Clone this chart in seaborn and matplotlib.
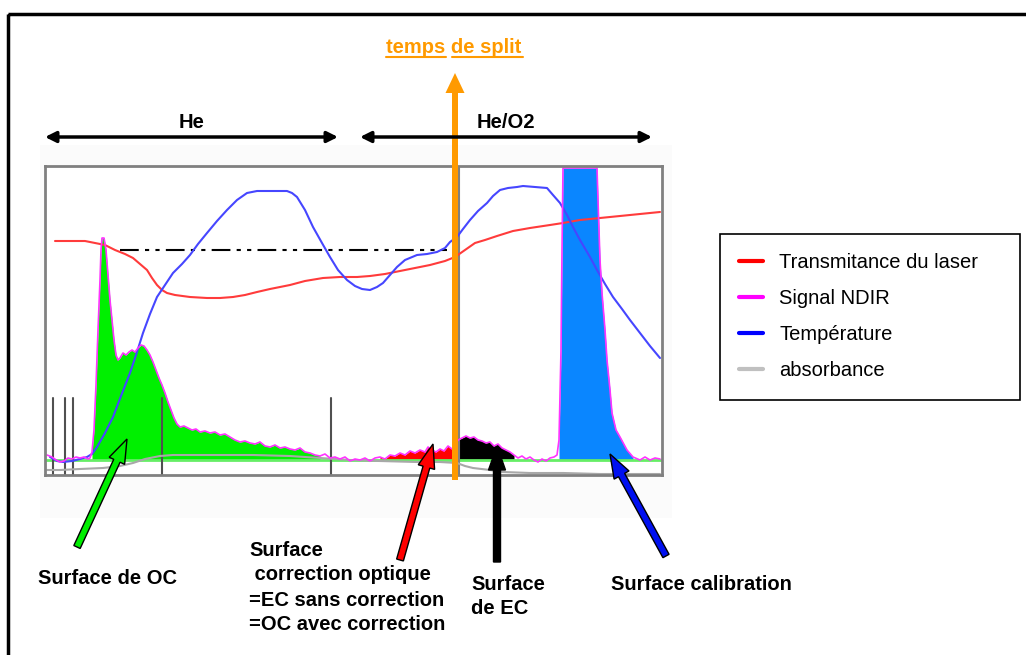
import numpy as np
import matplotlib
matplotlib.use("Agg")
import matplotlib.pyplot as plt
from matplotlib.lines import Line2D
from matplotlib.patches import Rectangle, FancyArrow
import seaborn as sns

# time axis (arbitrary units) and signals
ndir_t = [2, 7, 11, 15, 19, 23, 27, 31, 35, 39, 43, 45, 47, 49, 51, 53, 55, 56, 57, 59,
          61, 63, 65, 67, 69, 71, 73, 75, 78, 81, 84, 87, 90, 93, 96, 99, 102, 105, 108, 111,
          114, 117, 120, 123, 126, 129, 132, 135, 139, 143, 147, 151, 155, 160, 165, 170, 175, 180, 185, 190,
          195, 200, 205, 210, 215, 220, 225, 230, 235, 240, 245, 250, 255, 260, 265, 270, 275, 280, 285, 290,
          295, 300, 305, 310, 315, 320, 325, 330, 335, 340, 345, 350, 355, 360, 365, 370, 375, 380, 383, 387,
          391, 395, 399, 403, 407, 410, 413, 417, 421, 425, 429, 433, 437, 441, 445, 449, 453, 457, 461, 465,
          469, 473, 477, 481, 485, 489, 493, 497, 501, 505, 509, 512, 514, 516, 517, 518, 535, 552, 553, 555,
          557, 560, 562, 565, 567, 571, 575, 582, 588, 595, 600, 605, 610, 615]
ndir_s = [20, 18, 15, 13, 14, 17, 16, 18, 17, 18, 16, 17, 23, 45, 90, 145, 195, 225, 237, 237,
          225, 200, 175, 155, 135, 120, 115, 117, 122, 120, 123, 125, 123, 127, 130, 129, 125, 120, 113, 105,
          97, 90, 82, 73, 65, 57, 51, 48, 49, 47, 45, 46, 43, 44, 42, 43, 40, 41, 38, 35,
          33, 34, 32, 31, 33, 29, 28, 30, 27, 28, 26, 25, 27, 23, 22, 20, 19, 21, 17, 18,
          16, 18, 14, 16, 15, 17, 14, 17, 18, 16, 20, 19, 22, 20, 24, 22, 25, 23, 28, 25,
          23, 26, 24, 29, 26, 29, 35, 37, 39, 37, 38, 35, 34, 32, 33, 29, 31, 27, 25, 23,
          20, 17, 19, 16, 18, 15, 13, 16, 14, 17, 18, 20, 35, 125, 225, 307, 307, 307, 275, 215,
          182, 145, 115, 85, 62, 45, 38, 25, 18, 15, 18, 15, 17, 16]

laser_t = [10, 25, 40, 50, 60, 70, 80, 88, 95, 102, 107, 112, 117, 122, 130, 145, 162, 175, 188, 200,
           212, 225, 245, 260, 278, 295, 312, 325, 340, 355, 370, 385, 400, 410, 420, 430, 440, 452, 468, 485,
           505, 518, 535, 555, 575, 595, 615]
laser_s = [234, 234, 234, 232, 230, 225, 221, 217, 211, 205, 197, 190, 185, 182, 180, 178, 177, 177, 178, 180,
           183, 186, 190, 194, 197, 198, 198, 199, 201, 204, 207, 210, 214, 218, 225, 232, 235, 239, 244, 247,
           250, 252, 255, 257, 259, 261, 263]

temp_t = [5, 12, 18, 27, 35, 42, 47, 52, 60, 68, 76, 85, 92, 98, 105, 112, 120, 128, 137, 145,
          153, 162, 172, 182, 192, 202, 212, 225, 242, 247, 252, 260, 268, 277, 285, 293, 302, 310, 317, 325,
          332, 338, 345, 352, 360, 372, 382, 392, 400, 405, 412, 418, 425, 433, 442, 448, 455, 463, 472, 478,
          490, 502, 508, 515, 522, 528, 535, 545, 552, 560, 568, 577, 585, 595, 605, 615]
temp_s = [18, 14, 13, 14, 16, 18, 21, 28, 42, 58, 79, 102, 123, 142, 161, 178, 190, 202, 211, 220,
          231, 242, 254, 265, 275, 282, 284, 284, 284, 282, 278, 265, 248, 232, 218, 205, 195, 189, 186, 185,
          188, 192, 200, 208, 215, 220, 221, 223, 227, 233, 238, 246, 255, 264, 272, 279, 285, 287, 288, 289,
          288, 287, 280, 272, 260, 248, 235, 218, 205, 191, 178, 166, 155, 142, 129, 117]

absorb_t = [2, 15, 35, 58, 75, 88, 100, 115, 128, 155, 208, 245, 275, 305, 335, 372, 395, 412, 420, 428,
            445, 458, 485, 518, 555, 615]
absorb_s = [5, 5, 6, 7, 9, 12, 16, 19, 20, 20, 20, 19, 17, 15, 14, 13, 13, 12, 9, 7,
            5, 3, 2, 2, 1, 1]

baseline = 15
oc_range = (47, 275)
optical_range = (332, 413)
ec_range = (413, 472)
calib_range = (513, 590)
split_t = 414
markers_t = [8, 20, 28, 117, 286]
markers_h = 77
he_level = 225
he_span = (75, 402)

legend_labels = ["Transmitance du laser", "Signal NDIR", "Température", "absorbance"]
legend_colors = ["#ff0000", "#ff00ff", "#0000ff", "#c0c0c0"]

sns.set_style("white")
plt.rcParams['font.family'] = ['Liberation Sans', 'DejaVu Sans']
plt.rcParams['text.color'] = 'black'

fig = plt.figure(figsize=(10.26, 6.55), dpi=100)
W, H = 1026, 655

# background layer (pixel coordinates)
bg = fig.add_axes([0, 0, 1, 1], zorder=0)
bg.set_xlim(0, W)
bg.set_ylim(H, 0)
bg.axis('off')
bg.add_patch(Rectangle((40, 145), 632, 373, facecolor='#fbfbfb', edgecolor='none'))
bg.add_patch(Rectangle((8, 14), 1100, 700, facecolor='none', edgecolor='black', lw=2.5))

# thermogram
ax = fig.add_axes([45 / W, (H - 475) / H, 617 / W, 309 / H], zorder=1)
ax.set_facecolor('white')
t = np.array(ndir_t, dtype=float)
s = np.array(ndir_s, dtype=float)
top = np.maximum(s, baseline)


def fill_zone(rng, color):
    m = (t >= rng[0]) & (t <= rng[1])
    ax.fill_between(t[m], baseline, top[m], color=color, lw=0)


fill_zone(oc_range, '#00f000')
fill_zone(optical_range, '#ff0000')
fill_zone(ec_range, '#000000')
fill_zone(calib_range, '#0a86ff')

ax.axhline(baseline, color='#66ee66', lw=2)
for mt in markers_t:
    ax.plot([mt, mt], [0, markers_h], color='#505050', lw=1.5)
ax.axvline(split_t, color='#808080', lw=1.5)
ax.plot(he_span, [he_level, he_level], color='black', lw=1.5, dashes=(9, 3, 2, 3, 2, 3))

sns.lineplot(x=absorb_t, y=absorb_s, ax=ax, color='#a8a8a8', lw=1.5, estimator=None)
sns.lineplot(x=laser_t, y=laser_s, ax=ax, color='#ff3b3b', lw=1.5, estimator=None)
sns.lineplot(x=temp_t, y=temp_s, ax=ax, color='#4646ff', lw=1.5, estimator=None)
sns.lineplot(x=ndir_t, y=ndir_s, ax=ax, color='#ff33ff', lw=1.2, estimator=None)

ax.set_xlim(0, 617)
ax.set_ylim(0, 309)
ax.set_xticks([])
ax.set_yticks([])
ax.set_xlabel('')
ax.set_ylabel('')
for sp in ax.spines.values():
    sp.set_color('#808080')
    sp.set_linewidth(2)

handles = [Line2D([], [], color=c, lw=3) for c in legend_colors]
leg = ax.legend(handles, legend_labels, loc='upper left',
                bbox_to_anchor=(720 / W, 1 - 234 / H, 300 / W, 0),
                bbox_transform=fig.transFigure, mode='expand', fontsize=14.5,
                frameon=True, fancybox=False, edgecolor='black', framealpha=1,
                borderpad=0.95, labelspacing=0.85, handlelength=1.2,
                handletextpad=0.8, borderaxespad=0)
leg.get_frame().set_linewidth(1.2)

# annotation layer (pixel coordinates)
ov = fig.add_axes([0, 0, 1, 1], zorder=2)
ov.patch.set_visible(False)
ov.set_xlim(0, W)
ov.set_ylim(H, 0)
ov.axis('off')

orange = '#ff9a00'
ov.add_patch(FancyArrow(455, 480, 0, -407, width=6, head_width=19, head_length=20,
                        length_includes_head=True, color=orange, lw=0))
ov.text(386, 53, 'temps de split', color=orange, fontsize=14.5, fontweight='bold',
        ha='left', va='baseline')
ov.plot([386, 446], [56.5, 56.5], color=orange, lw=1.5)
ov.plot([452, 523], [56.5, 56.5], color=orange, lw=1.5)

for x0, x1, lab in [(45, 338, 'He'), (360, 652, 'He/O2')]:
    ov.annotate('', xy=(x1, 137), xytext=(x0, 137),
                arrowprops=dict(arrowstyle='<|-|>', color='black', lw=2.5,
                                mutation_scale=16, shrinkA=0, shrinkB=0))
    ov.text((x0 + x1) / 2, 123, lab, fontsize=14.5, fontweight='bold', ha='center', va='center')

for (x0, y0, x1, y1, fc) in [(77, 547, 127, 439, '#00ee00'),
                             (400, 560, 433, 444, '#ff0000'),
                             (497, 562, 497, 446, '#000000'),
                             (666, 556, 610, 454, '#0010f0')]:
    ov.add_patch(FancyArrow(x0, y0, x1 - x0, y1 - y0, width=7, head_width=17, head_length=24,
                            length_includes_head=True, facecolor=fc, edgecolor='black', lw=1))

labels = [(38, 579, 'Surface de OC'),
          (249, 551, 'Surface'),
          (249, 575, ' correction optique'),
          (249, 600, '=EC sans correction'),
          (249, 625, '=OC avec correction'),
          (471, 585, 'Surface'),
          (471, 609, 'de EC'),
          (611, 585, 'Surface calibration')]
for x, y, txt in labels:
    ov.text(x, y, txt, fontsize=14.5, fontweight='bold', ha='left', va='center')

plt.savefig('out.png', dpi=100)
plt.close()
